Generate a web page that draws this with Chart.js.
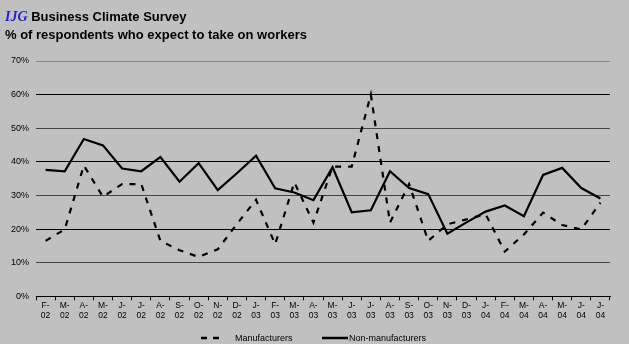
<!DOCTYPE html>
<html>
<head>
<meta charset="utf-8">
<script src="https://cdn.jsdelivr.net/npm/chart.js"></script>
<style>
    html, body { margin: 0; padding: 0; background: #c0c0c0; }
    #wrap { position: relative; width: 629px; height: 344px; }
    .title { position: absolute; left: 5px; font-family: "Liberation Sans", Arial, sans-serif; font-weight: bold; font-size: 13px; color: #000; white-space: nowrap; }
    .ijg { font-family: "Liberation Serif", "Times New Roman", serif; font-style: italic; color: #2323c8; font-size: 14px; }
</style>
</head>
<body>
<div id="wrap">
    <div class="title" style="top:9px"><span class="ijg">IJG</span> Business Climate Survey</div>
    <div class="title" style="top:27px">% of respondents who expect to take on workers</div>
    <canvas id="chart" width="629" height="344"></canvas>
</div>
<script>
// Data
const months = ["F", "M", "A", "M", "J", "J", "A", "S", "O", "N", "D",
    "J", "F", "M", "A", "M", "J", "J", "A", "S", "O", "N", "D",
    "J", "F", "M", "A", "M", "J", "J"]
const years = ["02", "02", "02", "02", "02", "02", "02", "02", "02", "02", "02",
    "03", "03", "03", "03", "03", "03", "03", "03", "03", "03", "03", "03",
    "04", "04", "04", "04", "04", "04", "04"]
const manufacturers = [16.5, 19.9, 38.9, 29.6, 33.4, 33.4, 16.5, 13.7, 11.7, 14.0, 21.5,
    28.7, 15.5, 33.9, 21.9, 38.6, 38.6, 60.0, 21.9, 33.4, 16.5, 21.4, 22.9,
    24.4, 13.3, 18.4, 24.9, 21.2, 19.9, 27.9]
const nonManufacturers = [37.6, 37.2, 46.8, 44.9, 38.0, 37.2, 41.4, 34.1, 39.6, 31.6, 36.6,
    41.8, 32.1, 30.9, 28.6, 38.4, 25.0, 25.6, 37.2, 32.2, 30.4, 18.6, 22.0,
    25.2, 27.0, 23.8, 36.1, 38.2, 32.2, 29.1]
const yTicks = [0, 10, 20, 30, 40, 50, 60, 70]

const labels = months.map((m, i) => [m + "-", years[i]])
const font = "'Liberation Sans', Arial, sans-serif"

// Excel-style legend under the axis labels
const bottomLegend = {
    id: "bottomLegend",
    afterDraw(chart) {
        const ctx = chart.ctx
        const y = 338
        ctx.save()
        ctx.strokeStyle = "#000"
        ctx.lineWidth = 2.5
        ctx.beginPath()
        ctx.setLineDash([6, 6])
        ctx.moveTo(201, y)
        ctx.lineTo(222, y)
        ctx.stroke()
        ctx.setLineDash([])
        ctx.beginPath()
        ctx.moveTo(322, y)
        ctx.lineTo(348, y)
        ctx.stroke()
        ctx.fillStyle = "#000"
        ctx.font = "9px " + font
        ctx.textBaseline = "middle"
        ctx.fillText(chart.data.datasets[0].label, 235, y + 0.5)
        ctx.fillText(chart.data.datasets[1].label, 349, y + 0.5)
        ctx.restore()
    },
}

const chart = new Chart(document.getElementById("chart"), {
    type: "line",
    data: {
        labels: labels,
        datasets: [
            {
                label: "Manufacturers",
                data: manufacturers,
                borderColor: "#000",
                borderWidth: 2.2,
                borderDash: [6, 7],
                pointRadius: 0,
                tension: 0,
                fill: false,
            },
            {
                label: "Non-manufacturers",
                data: nonManufacturers,
                borderColor: "#000",
                borderWidth: 2.2,
                pointRadius: 0,
                tension: 0,
                fill: false,
            },
        ],
    },
    plugins: [bottomLegend],
    options: {
        responsive: false,
        animation: false,
        layout: { padding: { left: 4, right: 19, top: 61, bottom: 23 } },
        plugins: {
            title: { display: false },
            tooltip: { enabled: false },
            legend: { display: false },
        },
        scales: {
            x: {
                offset: true,
                grid: {
                    offset: true,
                    drawOnChartArea: false,
                    drawTicks: true,
                    tickLength: 4,
                    color: "#000",
                },
                border: { display: true, color: "#000", width: 1 },
                ticks: {
                    autoSkip: false,
                    maxRotation: 0,
                    padding: 1,
                    color: "#000",
                    font: { family: font, size: 8.5, lineHeight: 1.1 },
                },
            },
            y: {
                min: 0,
                max: 70,
                afterBuildTicks: (axis) => {
                    axis.ticks = yTicks.map((v) => ({ value: v }))
                },
                grid: {
                    drawTicks: false,
                    color: (ctx) => (ctx.tick && ctx.tick.value === 70 ? "#888" : (ctx.tick && ctx.tick.value % 20 === 0 ? "#000" : "#444")),
                    lineWidth: 1,
                },
                border: { display: false },
                ticks: {
                    padding: 7,
                    color: "#000",
                    font: { family: font, size: 9 },
                    callback: (v) => v + "%",
                },
            },
        },
    },
})
</script>
</body>
</html>
